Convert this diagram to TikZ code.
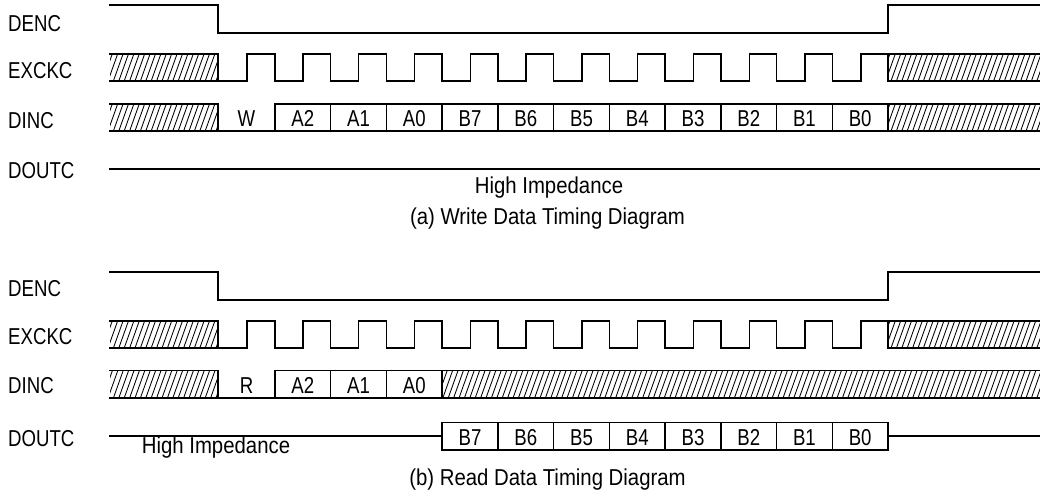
\documentclass[tikz,border=0pt]{standalone}
\usepackage{fontspec}
\setmainfont{Liberation Sans}
\newfontfamily\capfont[FakeStretch=0.81]{Liberation Sans}
\newfontfamily\txtfont[FakeStretch=0.885]{Liberation Sans}
\newcommand\hatchregion[4]{%
  \begin{scope}
    \clip (#1,#2) rectangle (#3,#4);
    \foreach \hk in {0,...,195} {
      \draw[hatchln] ({5.4*\hk},#4) -- ++(10,-28);
    }
  \end{scope}
  \draw[sig] (#1,#2) -- (#3,#2);
  \draw[sig] (#1,#4) -- (#3,#4);
}
\begin{document}
\begin{tikzpicture}[x=1pt,y=-1pt,
  sig/.style={line width=1.4pt, line join=miter, line cap=rect},
  hatchln/.style={line width=0.85pt},
  lbl/.style={anchor=base west, inner sep=0pt, font=\capfont\fontsize{23}{23}\selectfont},
  cell/.style={anchor=base, inner sep=0pt, font=\capfont\fontsize{23}{23}\selectfont},
  note/.style={anchor=base, inner sep=0pt, font=\txtfont\fontsize{23}{23}\selectfont}]
\useasboundingbox (0,0) rectangle (1040,501);

% ================= (a) write =================
\node[lbl] (la1) at (8,31) {DENC};
\node[lbl] (la2) at (8,78.5) {EXCKC};
\node[lbl] (la3) at (8,128) {DINC};
\node[lbl] (la4) at (8,178) {DOUTC};

% DENC
\draw[sig] (110,5) -- (218,5) -- (218,33) -- (888,33) -- (888,5) -- (1040,5);
% EXCKC
\hatchregion{110}{54}{218}{81}
\draw[sig] (218,54) -- (218,81);
\draw[sig] (218,81) \foreach \k in {0,...,11} { -- ({247+55.8*\k},81) -- ({247+55.8*\k},54) -- ({275+55.73*\k},54) -- ({275+55.73*\k},81) };
\hatchregion{888}{54}{1040}{81}
\draw[sig] (888,54) -- (888,81);
% DINC
\hatchregion{110}{104}{218}{131}
\draw[sig] (218,104) -- (218,131);
\draw[sig] (218,131) -- (888,131);
\draw[sig] (275,104) -- (888,104);
\foreach \k in {0,...,11} { \draw[sig] ({275+55.73*\k},104) -- ({275+55.73*\k},131); }
\hatchregion{888}{104}{1040}{131}
\node[cell] (aW) at (246.5,126.5) {W};
\foreach \t [count=\i from 1] in {A2,A1,A0,B7,B6,B5,B4,B3,B2,B1,B0} {
  \node[cell] (a\t) at ({275+55.73*(\i-0.5)},126.5) {\t};
}
% DOUTC
\draw[sig] (110,169) -- (1040,169);
\node[note] (ahz) at (549,193) {High Impedance};
\node[note] (capa) at (547.5,224) {(a) Write Data Timing Diagram};

% ================= (b) read =================
\node[lbl] (lb1) at (8,296.5) {DENC};
\node[lbl] (lb2) at (8,344) {EXCKC};
\node[lbl] (lb3) at (8,393) {DINC};
\node[lbl] (lb4) at (8,446) {DOUTC};

% DENC
\draw[sig] (110,272) -- (218,272) -- (218,300) -- (888,300) -- (888,272) -- (1040,272);
% EXCKC
\hatchregion{110}{321}{218}{348}
\draw[sig] (218,321) -- (218,348);
\draw[sig] (218,348) \foreach \k in {0,...,11} { -- ({247+55.8*\k},348) -- ({247+55.8*\k},321) -- ({275+55.73*\k},321) -- ({275+55.73*\k},348) };
\hatchregion{888}{321}{1040}{348}
\draw[sig] (888,321) -- (888,348);
% DINC
\hatchregion{110}{370.5}{218}{398}
\draw[sig] (218,370.5) -- (218,398);
\draw[sig] (218,398) -- (442,398);
\draw[sig] (275,370.5) -- (442,370.5);
\foreach \k in {0,...,3} { \draw[sig] ({275+55.73*\k},370.5) -- ({275+55.73*\k},398); }
\hatchregion{442.2}{370.5}{1040}{398}
\node[cell] (bR) at (246.5,393) {R};
\foreach \t [count=\i from 1] in {A2,A1,A0} {
  \node[cell] (b\t) at ({275+55.73*(\i-0.5)},393) {\t};
}
% DOUTC
\draw[sig] (110,436) -- (442.2,436);
\draw[sig] (442.2,422.5) -- (888,422.5);
\draw[sig] (442.2,450) -- (888,450);
\foreach \k in {3,...,11} { \draw[sig] ({275+55.73*\k},422.5) -- ({275+55.73*\k},450); }
\draw[sig] (888,436) -- (1040,436);
\foreach \t [count=\i from 4] in {B7,B6,B5,B4,B3,B2,B1,B0} {
  \node[cell] (b\t) at ({275+55.73*(\i-0.5)},445) {\t};
}
\node[note] (bhz) at (216,453) {High Impedance};
\node[note] (capb) at (547.5,485) {(b) Read Data Timing Diagram};
\end{tikzpicture}
\end{document}
